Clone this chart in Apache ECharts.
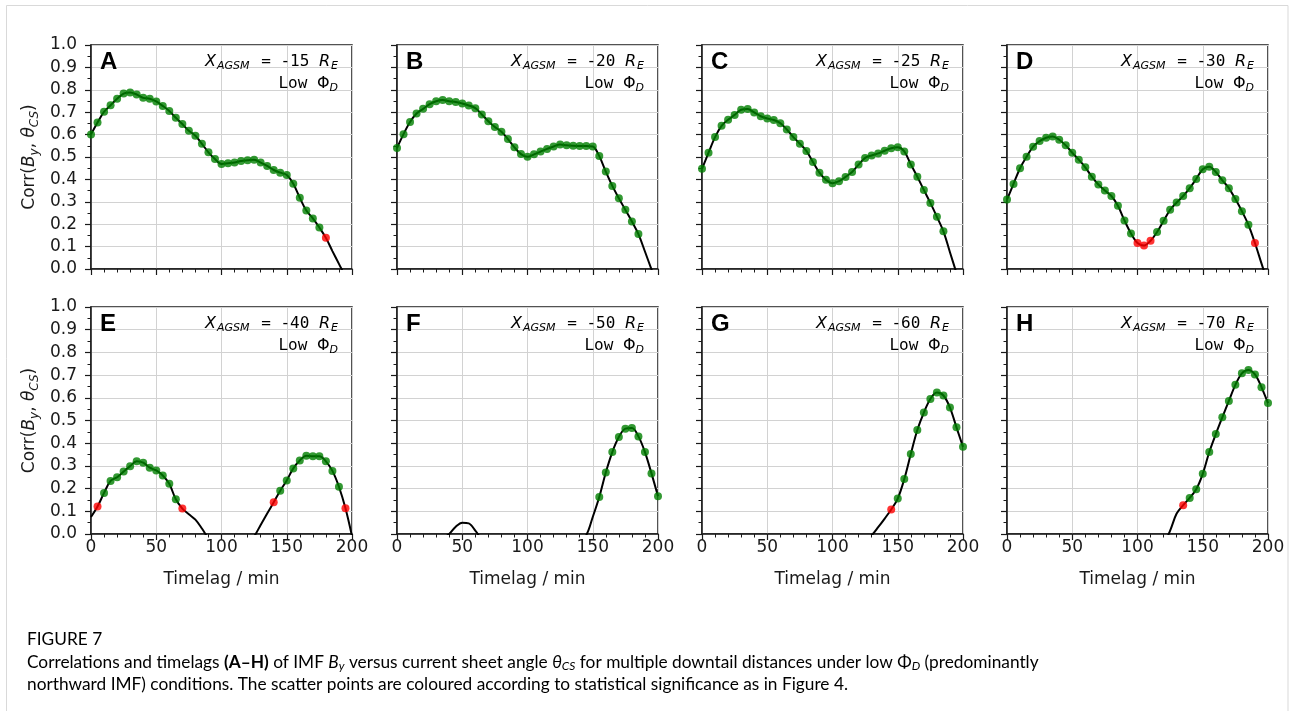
<!DOCTYPE html>
<html>
<head>
<meta charset="utf-8">
<script src="https://cdn.jsdelivr.net/npm/echarts@6/dist/echarts.min.js"></script>
<style>
html,body{margin:0;padding:0;background:#fff;}
#chart{width:1294px;height:711px;}
</style>
</head>
<body>
<div id="chart"></div>
<script>
// ---------- data ----------
const lags = [0,5,10,15,20,25,30,35,40,45,50,55,60,65,70,75,80,85,90,95,100,105,110,115,120,125,130,135,140,145,150,155,160,165,170,175,180,185,190,195,200];
const panelLetters = ['A','B','C','D','E','F','G','H'];
const xAgsm = ['-15','-20','-25','-30','-40','-50','-60','-70'];

const corrA = [0.601,0.654,0.702,0.731,0.760,0.783,0.788,0.779,0.764,0.760,0.748,0.728,0.705,0.675,0.647,0.617,0.595,0.559,0.521,0.491,0.469,0.472,0.475,0.482,0.485,0.488,0.475,0.460,0.442,0.430,0.420,0.381,0.318,0.261,0.226,0.185,0.139,0.080,0.023,-0.035,-0.090];
const corrB = [0.540,0.602,0.656,0.694,0.715,0.736,0.749,0.754,0.749,0.746,0.739,0.730,0.718,0.690,0.660,0.634,0.613,0.580,0.543,0.513,0.501,0.512,0.524,0.536,0.547,0.556,0.552,0.550,0.549,0.549,0.547,0.504,0.435,0.371,0.316,0.264,0.212,0.156,0.078,-0.002,-0.085];
const corrC = [0.447,0.519,0.589,0.639,0.666,0.688,0.711,0.714,0.699,0.682,0.672,0.665,0.651,0.623,0.589,0.559,0.527,0.478,0.430,0.398,0.383,0.392,0.411,0.433,0.466,0.496,0.507,0.516,0.528,0.539,0.543,0.525,0.467,0.412,0.353,0.295,0.233,0.168,0.075,-0.018,-0.110];
const corrD = [0.310,0.380,0.450,0.501,0.546,0.571,0.586,0.592,0.577,0.552,0.519,0.488,0.454,0.412,0.377,0.350,0.326,0.282,0.217,0.159,0.116,0.105,0.126,0.165,0.215,0.264,0.297,0.326,0.361,0.402,0.445,0.457,0.433,0.396,0.361,0.312,0.258,0.197,0.116,0.025,-0.065];
const corrE = [0.075,0.121,0.181,0.234,0.250,0.275,0.299,0.321,0.314,0.292,0.280,0.258,0.221,0.153,0.112,0.087,0.063,0.024,-0.020,-0.050,-0.070,-0.075,-0.070,-0.055,-0.035,-0.010,0.040,0.090,0.140,0.191,0.236,0.289,0.324,0.345,0.342,0.342,0.320,0.278,0.208,0.113,-0.010];
const corrF = [-0.120,-0.100,-0.090,-0.080,-0.070,-0.060,-0.045,-0.020,0.000,0.032,0.050,0.047,0.015,-0.025,-0.060,-0.090,-0.110,-0.120,-0.125,-0.125,-0.120,-0.115,-0.110,-0.100,-0.090,-0.080,-0.065,-0.045,-0.025,-0.005,0.075,0.163,0.271,0.361,0.427,0.464,0.467,0.430,0.361,0.267,0.166];
const corrG = [-0.100,-0.120,-0.140,-0.150,-0.160,-0.170,-0.180,-0.180,-0.180,-0.170,-0.160,-0.150,-0.140,-0.130,-0.120,-0.110,-0.100,-0.090,-0.085,-0.080,-0.075,-0.070,-0.060,-0.050,-0.035,-0.020,-0.005,0.030,0.068,0.108,0.156,0.242,0.352,0.458,0.535,0.595,0.623,0.610,0.557,0.470,0.384];
const corrH = [-0.150,-0.160,-0.170,-0.180,-0.180,-0.180,-0.170,-0.160,-0.150,-0.140,-0.130,-0.120,-0.110,-0.100,-0.100,-0.100,-0.100,-0.100,-0.100,-0.100,-0.100,-0.095,-0.085,-0.070,-0.045,0.015,0.090,0.127,0.159,0.197,0.265,0.361,0.440,0.514,0.586,0.657,0.708,0.723,0.703,0.647,0.577];

// significance per lag: 0 = no marker, 1 = significant (green), 2 = marginal (red)
const sigA = [1,1,1,1,1,1,1,1,1,1,1,1,1,1,1,1,1,1,1,1,1,1,1,1,1,1,1,1,1,1,1,1,1,1,1,1,2,0,0,0,0];
const sigB = [1,1,1,1,1,1,1,1,1,1,1,1,1,1,1,1,1,1,1,1,1,1,1,1,1,1,1,1,1,1,1,1,1,1,1,1,1,1,0,0,0];
const sigC = [1,1,1,1,1,1,1,1,1,1,1,1,1,1,1,1,1,1,1,1,1,1,1,1,1,1,1,1,1,1,1,1,1,1,1,1,1,1,0,0,0];
const sigD = [1,1,1,1,1,1,1,1,1,1,1,1,1,1,1,1,1,1,1,1,2,2,2,1,1,1,1,1,1,1,1,1,1,1,1,1,1,1,2,0,0];
const sigE = [0,2,1,1,1,1,1,1,1,1,1,1,1,1,2,0,0,0,0,0,0,0,0,0,0,0,0,0,2,1,1,1,1,1,1,1,1,1,1,2,0];
const sigF = [0,0,0,0,0,0,0,0,0,0,0,0,0,0,0,0,0,0,0,0,0,0,0,0,0,0,0,0,0,0,0,1,1,1,1,1,1,1,1,1,1];
const sigG = [0,0,0,0,0,0,0,0,0,0,0,0,0,0,0,0,0,0,0,0,0,0,0,0,0,0,0,0,0,2,1,1,1,1,1,1,1,1,1,1,1];
const sigH = [0,0,0,0,0,0,0,0,0,0,0,0,0,0,0,0,0,0,0,0,0,0,0,0,0,0,0,2,1,1,1,1,1,1,1,1,1,1,1,1,1];

const corrs = [corrA,corrB,corrC,corrD,corrE,corrF,corrG,corrH];
const sigs = [sigA,sigB,sigC,sigD,sigE,sigF,sigG,sigH];

// ---------- layout ----------
const LEFTS = [91, 397, 702, 1007];
const TOPS = [45, 307];
const HEIGHTS = [224, 227];
const W = 261;
const FONT = 'DejaVu Sans';
const MONO = 'DejaVu Sans Mono';
const INK = '#1a1a1a';

const chart = echarts.init(document.getElementById('chart'), null, {renderer:'canvas'});

const grids = [], xAxes = [], yAxes = [], series = [], graphics = [];

const yNameRich = {
  n: {fontFamily: FONT, fontSize: 17, color: INK, lineHeight: 22},
  i: {fontFamily: FONT, fontStyle: 'italic', fontSize: 17, color: INK, lineHeight: 22},
  s: {fontFamily: FONT, fontStyle: 'italic', fontSize: 12, color: INK, lineHeight: 12, verticalAlign: 'bottom'}
};
const annRich = {
  m: {fontFamily: MONO, fontSize: 16, color: INK, lineHeight: 20},
  u: {fontFamily: FONT, fontSize: 16, color: INK, lineHeight: 20},
  i: {fontFamily: FONT, fontStyle: 'italic', fontSize: 16, color: INK, lineHeight: 20, padding: [0,1,0,0]},
  s: {fontFamily: FONT, fontStyle: 'italic', fontSize: 11, color: INK, lineHeight: 11, verticalAlign: 'bottom', padding: [0,2,0,0]}
};

for (let p = 0; p < 8; p++) {
  const col = p % 4, row = Math.floor(p / 4);
  const L = LEFTS[col], T = TOPS[row], H = HEIGHTS[row];
  grids.push({left: L, top: T, width: W, height: H, show: true,
    borderColor: INK, borderWidth: 1.5, backgroundColor: 'transparent',
    containLabel: false, outerBoundsMode: 'none'});
  xAxes.push({
    type: 'value', gridIndex: p, min: 0, max: 200, interval: 50,
    axisLine: {show: true, onZero: false, lineStyle: {color: INK, width: 1.5}},
    axisTick: {show: true, inside: false, length: 6, lineStyle: {color: INK, width: 1.2}},
    minorTick: {show: true, splitNumber: 5, length: 3.5, lineStyle: {color: INK, width: 1}},
    splitLine: {show: true, lineStyle: {color: '#d2d2d2', width: 1}},
    minorSplitLine: {show: false},
    axisLabel: {show: row === 1, margin: 5, fontFamily: FONT, fontSize: 17, color: INK},
    name: row === 1 ? 'Timelag / min' : '',
    nameLocation: 'middle', nameGap: 37,
    nameTextStyle: {fontFamily: FONT, fontSize: 17, color: INK}
  });
  yAxes.push({
    type: 'value', gridIndex: p, min: 0, max: 1, interval: 0.1,
    axisLine: {show: true, onZero: false, lineStyle: {color: INK, width: 1.5}},
    axisTick: {show: true, inside: false, length: 6, lineStyle: {color: INK, width: 1.2}},
    minorTick: {show: true, splitNumber: 2, length: 3.5, lineStyle: {color: INK, width: 1}},
    splitLine: {show: true, lineStyle: {color: '#d2d2d2', width: 1}},
    minorSplitLine: {show: false},
    axisLabel: {show: col === 0, margin: 14, fontFamily: FONT, fontSize: 17, color: INK,
      formatter: v => v.toFixed(1)},
    name: col === 0 ? '{n|Corr(}{i|B}{s|y}{n|, }{i|θ}{s|CS}{n|)}' : '',
    nameLocation: 'middle', nameGap: 50,
    nameTextStyle: {rich: yNameRich}
  });

  const corr = corrs[p], sig = sigs[p];
  series.push({
    type: 'line', xAxisIndex: p, yAxisIndex: p, clip: true,
    data: lags.map((x, k) => [x, corr[k]]),
    showSymbol: false, symbol: 'none', smooth: 0.35,
    lineStyle: {color: '#000', width: 2}, z: 2, silent: true
  });
  series.push({
    type: 'scatter', xAxisIndex: p, yAxisIndex: p, clip: false,
    data: lags.map((x, k) => [x, corr[k], sig[k]]).filter(d => d[2] === 1).map(d => [d[0], d[1]]),
    symbol: 'circle', symbolSize: 8, itemStyle: {color: '#007f00'}, z: 3, silent: true
  });
  series.push({
    type: 'scatter', xAxisIndex: p, yAxisIndex: p, clip: false,
    data: lags.map((x, k) => [x, corr[k], sig[k]]).filter(d => d[2] === 2).map(d => [d[0], d[1]]),
    symbol: 'circle', symbolSize: 8, itemStyle: {color: '#ff0000'}, z: 4, silent: true
  });

  // panel letter
  graphics.push({type: 'text', x: L + 9, y: T + 17, z: 100, silent: true,
    style: {text: panelLetters[p], font: 'bold 24px "Liberation Sans"', fill: '#000',
      align: 'left', verticalAlign: 'middle'}});
  // annotations
  graphics.push({type: 'text', x: L + W - 12, y: T + 17, z: 100, silent: true,
    style: {text: '{i|X}{s|AGSM}{m| = ' + xAgsm[p] + ' }{i|R}{s|E}', rich: annRich,
      align: 'right', verticalAlign: 'middle'}});
  graphics.push({type: 'text', x: L + W - 12, y: T + 39, z: 100, silent: true,
    style: {text: '{m|Low }{u|Φ}{s|D}', rich: annRich, align: 'right', verticalAlign: 'middle'}});
}

// caption
const CAPF = 'Lato';
const CAPS = 17.3;
const capRich = {
  n: {fontFamily: CAPF, fontSize: CAPS, color: '#5e5e5e', lineHeight: 21},
  b: {fontFamily: CAPF, fontWeight: 'bold', fontSize: CAPS, color: '#4a4a4a', lineHeight: 21},
  i: {fontFamily: CAPF, fontStyle: 'italic', fontSize: CAPS, color: '#5e5e5e', lineHeight: 21},
  s: {fontFamily: CAPF, fontStyle: 'italic', fontSize: 12, color: '#5e5e5e', lineHeight: 12, verticalAlign: 'bottom'},
  l: {fontFamily: CAPF, fontSize: CAPS, color: '#00a6c9', lineHeight: 21}
};
graphics.push({type: 'rect', z: 0, silent: true,
  shape: {x: 6.5, y: 5.5, width: 1281.5, height: 800},
  style: {fill: 'transparent', stroke: '#d9d9d9', lineWidth: 1}});
graphics.push({type: 'text', x: 27, y: 639, z: 100, silent: true,
  style: {text: '{n|FIGURE 7}', rich: capRich, align: 'left', verticalAlign: 'middle'}});
graphics.push({type: 'text', x: 27, y: 662, z: 100, silent: true,
  style: {text: '{n|Correlations and timelags }{b|(A\u2013H)}{n| of IMF }{i|B}{s|y}{n| versus current sheet angle }{i|θ}{s|CS}{n| for multiple downtail distances under low Φ}{s|D}{n| (predominantly}',
    rich: capRich, align: 'left', verticalAlign: 'middle'}});
graphics.push({type: 'text', x: 27, y: 684, z: 100, silent: true,
  style: {text: '{n|northward IMF) conditions. The scatter points are coloured according to statistical significance as in }{l|Figure 4}{n|.}',
    rich: capRich, align: 'left', verticalAlign: 'middle'}});

chart.setOption({
  animation: false,
  backgroundColor: '#ffffff',
  grid: grids,
  xAxis: xAxes,
  yAxis: yAxes,
  series: series,
  graphic: graphics
});
</script>
</body>
</html>
